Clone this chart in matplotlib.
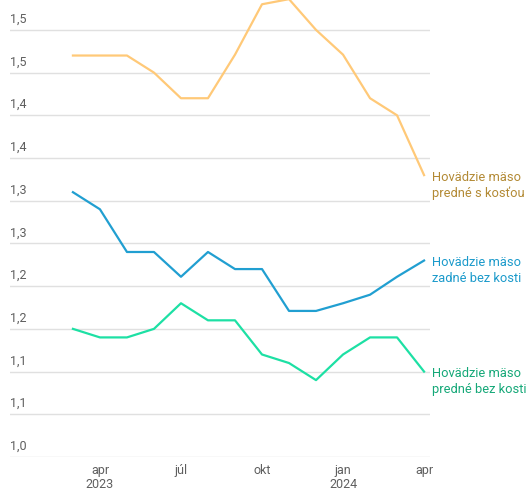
import matplotlib.pyplot as plt
import matplotlib.transforms as mtransforms

plt.rcParams['font.family'] = ['Roboto', 'DejaVu Sans']

# mesiace mar 2023 .. apr 2024
months = ['mar', 'apr', 'máj', 'jún', 'júl', 'aug', 'sep', 'okt', 'nov', 'dec', 'jan', 'feb', 'mar', 'apr']
predne_s_kostou = [1.470, 1.470, 1.470, 1.450, 1.420, 1.420, 1.471, 1.530, 1.536, 1.500, 1.471, 1.420, 1.400, 1.330]
zadne_bez_kosti = [1.310, 1.290, 1.240, 1.240, 1.211, 1.240, 1.220, 1.220, 1.171, 1.171, 1.180, 1.190, 1.211, 1.230]
predne_bez_kosti = [1.150, 1.140, 1.140, 1.150, 1.180, 1.160, 1.160, 1.120, 1.110, 1.090, 1.120, 1.140, 1.140, 1.100]

series_names = ['Hovädzie mäso\npredné s kosťou', 'Hovädzie mäso\nzadné bez kosti', 'Hovädzie mäso\npredné bez kosti']
line_colors = ['#ffc978', '#219fd1', '#1de0a4']
text_colors = ['#b38a35', '#1b9acb', '#15a878']

y_ticks = [1.00, 1.05, 1.10, 1.15, 1.20, 1.25, 1.30, 1.35, 1.40, 1.45, 1.50]
y_tick_labels = ['1,0', '1,1', '1,1', '1,2', '1,2', '1,3', '1,3', '1,4', '1,4', '1,5', '1,5']
x_tick_idx = [1, 4, 7, 10, 13]
x_tick_labels = ['apr\n2023', 'júl', 'okt', 'jan\n2024', 'apr']

fig = plt.figure(figsize=(5.28, 4.91), dpi=100)
ax = fig.add_axes([10/528, 34/491, 420/528, 457/491])

x = list(range(len(months)))
for vals, name, lc, tc in zip([predne_s_kostou, zadne_bez_kosti, predne_bez_kosti], series_names, line_colors, text_colors):
    ax.plot(x, vals, color=lc, lw=1.6, clip_on=False, zorder=3)
    ##label at the end of the line
    ax.annotate(name, (x[-1], vals[-1]), xytext=(6, 3), textcoords='offset points',
                ha='left', va='top', color=tc, fontsize=9.3, linespacing=1.25, annotation_clip=False)

ax.set_xlim(-2.33, 13.22)
ax.set_ylim(1.0, 1.535)
ax.set_yticks(y_ticks)
ax.set_yticklabels([])
ax.tick_params(axis='y', length=0)
ax.grid(axis='y', color='#e0e0e0', lw=1)
ax.set_axisbelow(True)

trans = mtransforms.blended_transform_factory(ax.transAxes, ax.transData)
for v, lab in zip(y_ticks, y_tick_labels):
    ax.annotate(lab, (0, v), xycoords=trans, xytext=(0, 3), textcoords='offset points',
                ha='left', va='bottom', color='#5f5f5f', fontsize=9)

ax.set_xticks(x_tick_idx)
ax.set_xticklabels(x_tick_labels, color='#5f5f5f', fontsize=9, linespacing=1.15)
ax.tick_params(axis='x', length=0, pad=5)

for s in ax.spines.values():
    s.set_visible(False)

fig.savefig('out.png', dpi=100)
